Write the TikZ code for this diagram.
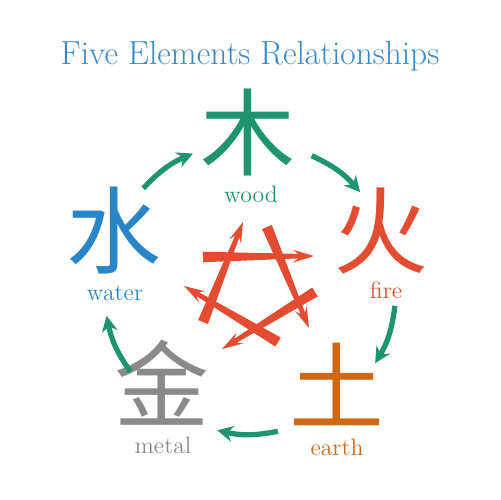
\documentclass[tikz,border=0pt]{standalone}
\usepackage{fontspec}
\newfontfamily\cjk{Noto Sans CJK SC}
\usetikzlibrary{calc,arrows.meta}
\definecolor{titleblue}{RGB}{55,140,200}
\definecolor{woodgreen}{RGB}{30,148,112}
\definecolor{firered}{RGB}{228,76,50}
\definecolor{earthorange}{RGB}{206,104,18}
\definecolor{metalgray}{RGB}{140,137,140}
\definecolor{waterblue}{RGB}{40,134,200}
% tapered red dart from #1 (tail) to #2 (tip)
\newcommand{\dart}[2]{%
  \coordinate (dj) at ($(#2)!9pt!(#1)$);
  \coordinate (db) at ($(#2)!12pt!(#1)$);
  \fill[firered] ($(#1)!3pt!90:(#2)$) -- ($(dj)!1.3pt!90:(#2)$) -- ($(db)!3.6pt!90:(#2)$) -- (#2)
    -- ($(db)!3.6pt!-90:(#2)$) -- ($(dj)!1.3pt!-90:(#2)$) -- ($(#1)!3pt!-90:(#2)$) -- cycle;}
\begin{document}
\begin{tikzpicture}[x=0.02cm,y=0.02cm,inner sep=0pt,outer sep=0pt,
hanzi/.style={font=\cjk\fontsize{54}{54}\selectfont},
elabel/.style={anchor=base,font=\fontsize{13.5}{13.5}\selectfont},
cyc/.style={draw=woodgreen,line width=3pt,-{Stealth[length=9pt,width=9pt]}}]
\useasboundingbox (0,0) rectangle (500,-500);
\node[anchor=base,font=\fontsize{19}{19}\selectfont,text=titleblue] (title) at (250,-65) {Five Elements Relationships};
% the five elements
\node[hanzi,text=woodgreen] (wood) at (248,-132) {木};
\node[hanzi,text=firered] (fire) at (381,-231) {火};
\node[hanzi,text=earthorange] (earth) at (337,-384) {土};
\node[hanzi,text=metalgray] (metal) at (162,-383) {金};
\node[hanzi,text=waterblue] (water) at (114,-231) {水};
\node[elabel,text=woodgreen] (woodlbl) at (251,-202) {wood};
\node[elabel,text=firered] (firelbl) at (386,-298) {fire};
\node[elabel,text=earthorange] (earthlbl) at (337,-455) {earth};
\node[elabel,text=metalgray] (metallbl) at (163,-453) {metal};
\node[elabel,text=waterblue] (waterlbl) at (115,-300) {water};
% generating cycle
\coordinate (c) at (250,-288);
\coordinate (wa1) at ($(c)+(137:146)$);
\coordinate (wa2) at ($(c)+(113:146)$);
\coordinate (wo1) at ($(c)+(65:146)$);
\coordinate (wo2) at ($(c)+(41:146)$);
\coordinate (fi1) at ($(c)+(-7:146)$);
\coordinate (fi2) at ($(c)+(-31:146)$);
\coordinate (ea1) at ($(c)+(-79:146)$);
\coordinate (ea2) at ($(c)+(-103:146)$);
\coordinate (me1) at ($(c)+(-145:146)$);
\coordinate (me2) at ($(c)+(-169:146)$);
\draw[cyc] (wa1) to[bend left=12] (wa2);
\draw[cyc] (wo1) to[bend left=12] (wo2);
\draw[cyc] (fi1) to[bend left=12] (fi2);
\draw[cyc] (ea1) to[bend left=12] (ea2);
\draw[cyc] (me1) to[bend left=12] (me2);
% controlling star
\coordinate (s1) at (203,-322); \coordinate (t1) at (243,-222);
\coordinate (s2) at (203,-257); \coordinate (t2) at (314,-256);
\coordinate (s3) at (267,-227); \coordinate (t3) at (309,-328);
\coordinate (s4) at (315,-292); \coordinate (t4) at (222,-349);
\coordinate (s5) at (278,-342); \coordinate (t5) at (184,-286);
\dart{s1}{t1}
\dart{s2}{t2}
\dart{s3}{t3}
\dart{s4}{t4}
\dart{s5}{t5}
\end{tikzpicture}
\end{document}
